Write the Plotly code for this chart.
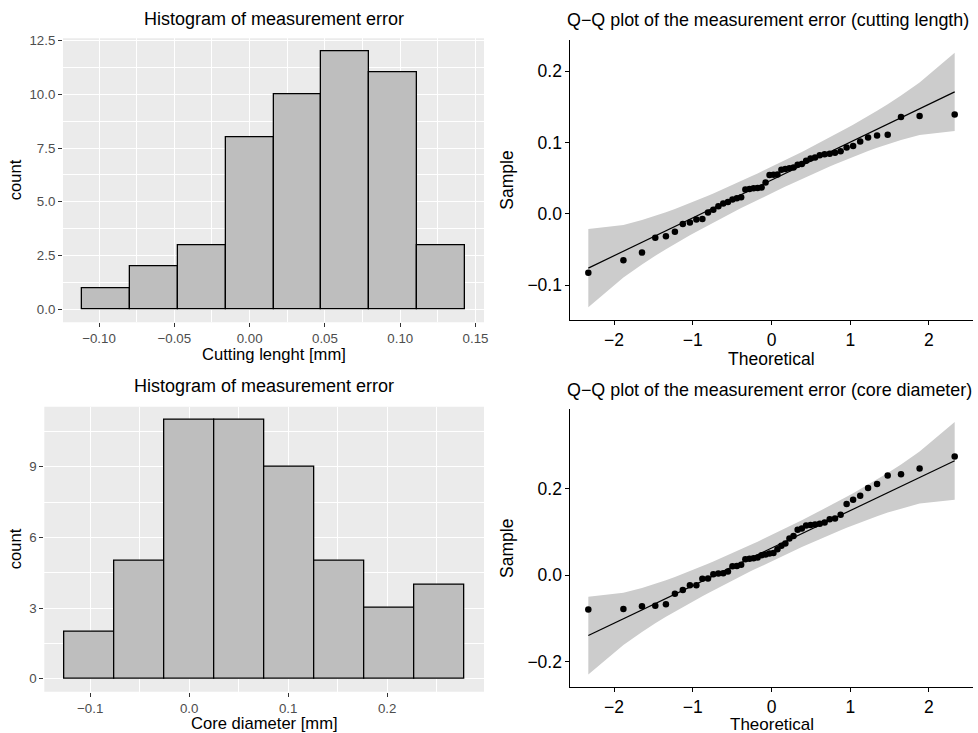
import math
from statistics import NormalDist
import plotly.graph_objects as go

# ---------------- data ----------------
cut_sample = [-0.0828, -0.0651, -0.0544, -0.0335, -0.0316, -0.0251, -0.0144, -0.0121, -0.0079, -0.0074,
              0.0019, 0.0056, 0.0107, 0.0144, 0.0167, 0.0200, 0.0219, 0.0233, 0.0340, 0.0350,
              0.0358, 0.0363, 0.0370, 0.0440, 0.0544, 0.0549, 0.0553, 0.0620, 0.0630, 0.0640,
              0.0650, 0.0690, 0.0700, 0.0744, 0.0777, 0.0790, 0.0820, 0.0837, 0.0842, 0.0856,
              0.0879, 0.0930, 0.0953, 0.1014, 0.1070, 0.1100, 0.1110, 0.1358, 0.1372, 0.1395]

core_sample = [-0.0792, -0.0777, -0.0717, -0.0702, -0.0672, -0.0430, -0.0340, -0.0234, -0.0234, -0.0083,
               -0.0075, 0.0023, 0.0038, 0.0045, 0.0083, 0.0204, 0.0211, 0.0242, 0.0370, 0.0377,
               0.0392, 0.0408, 0.0460, 0.0480, 0.0498, 0.0513, 0.0596, 0.0680, 0.0732, 0.0845,
               0.0906, 0.1050, 0.1080, 0.1147, 0.1160, 0.1170, 0.1190, 0.1215, 0.1290, 0.1306,
               0.1396, 0.1645, 0.1743, 0.1834, 0.2015, 0.2106, 0.2300, 0.2332, 0.2460, 0.2740]

hist1_edges = [-0.1112, -0.0794, -0.0476, -0.0159, 0.0159, 0.0476, 0.0794, 0.1112, 0.1429]
hist1_counts = [1, 2, 3, 8, 10, 12, 11, 3]

hist2_edges = [-0.1262, -0.0757, -0.0252, 0.0252, 0.0757, 0.1262, 0.1767, 0.2271, 0.2776]
hist2_counts = [2, 5, 11, 11, 9, 5, 3, 4]

title_hist = "Histogram of measurement error"
title_qq1 = "Q\u2212Q plot of the measurement error (cutting length)"
title_qq2 = "Q\u2212Q plot of the measurement error (core diameter)"
xlab_hist1 = "Cutting lenght [mm]"
xlab_hist2 = "Core diameter [mm]"

# ---------------- stats (like qqplotr) ----------------
nd = NormalDist()


def q7(s, p):
    h = (len(s) - 1) * p
    lo = math.floor(h)
    hi = min(lo + 1, len(s) - 1)
    return s[lo] + (h - lo) * (s[hi] - s[lo])


def qq_stats(sample):
    y = sorted(sample)
    n = len(y)
    ps = [(i - 0.5) / n for i in range(1, n + 1)]
    x = [nd.inv_cdf(p) for p in ps]
    z1, z3 = nd.inv_cdf(0.25), nd.inv_cdf(0.75)
    slope = (q7(y, 0.75) - q7(y, 0.25)) / (z3 - z1)
    icpt = q7(y, 0.25) - slope * z1
    zc = nd.inv_cdf(0.975)
    fit = [icpt + slope * z for z in x]
    se = [slope / nd.pdf(z) * math.sqrt(p * (1 - p) / n) for z, p in zip(x, ps)]
    up = [f + zc * s for f, s in zip(fit, se)]
    lo = [f - zc * s for f, s in zip(fit, se)]
    return x, y, fit, up, lo


def expand(lo, hi, f=0.05):
    d = (hi - lo) * f
    return [lo - d, hi + d]


fig = go.Figure()

FONT = "Liberation Sans, Arial, sans-serif"


def add_hist(edges, counts, xa, ya):
    centers = [(a + b) / 2 for a, b in zip(edges[:-1], edges[1:])]
    widths = [b - a for a, b in zip(edges[:-1], edges[1:])]
    fig.add_trace(go.Bar(x=centers, y=counts, width=widths, marker=dict(color="#BEBEBE",
                         line=dict(color="black", width=1.3)), xaxis=xa, yaxis=ya,
                         hoverinfo="x+y"))


def add_qq(sample, xa, ya):
    x, y, fit, up, lo = qq_stats(sample)
    fig.add_trace(go.Scatter(x=x + x[::-1], y=up + lo[::-1], fill="toself", fillcolor="#CCCCCC",
                             line=dict(width=0), mode="lines", xaxis=xa, yaxis=ya, hoverinfo="skip"))
    fig.add_trace(go.Scatter(x=[x[0], x[-1]], y=[fit[0], fit[-1]], mode="lines",
                             line=dict(color="black", width=1.2), xaxis=xa, yaxis=ya))
    fig.add_trace(go.Scatter(x=x, y=y, mode="markers", marker=dict(color="black", size=6.5),
                             xaxis=xa, yaxis=ya))
    return expand(min(x), max(x)), expand(min(lo + y), max(up + y))


add_hist(hist1_edges, hist1_counts, "x", "y")
qx1, qy1 = add_qq(cut_sample, "x2", "y2")
add_hist(hist2_edges, hist2_counts, "x3", "y3")
qx2, qy2 = add_qq(core_sample, "x4", "y4")

W, H = 978, 733


def dx(a, b):
    return [a / W, b / W]


def dy(top, bot):
    return [1 - bot / H, 1 - top / H]


hist_tick = dict(ticks="outside", ticklen=4, tickwidth=1.1, tickcolor="#333333",
                 tickfont=dict(family=FONT, size=13.3, color="#4D4D4D"), showgrid=True,
                 gridcolor="white", gridwidth=1.3, zeroline=False, showline=False, automargin=False)
qq_tick = dict(ticks="outside", ticklen=3.5, tickwidth=1.1, tickcolor="black",
               tickfont=dict(family=FONT, size=17.5, color="black"), showgrid=False,
               zeroline=False, showline=True, linecolor="black", linewidth=1.1, automargin=False)

fig.update_layout(
    width=W, height=H, margin=dict(l=0, r=0, t=0, b=0), showlegend=False,
    plot_bgcolor="white", paper_bgcolor="white", bargap=0,
    xaxis=dict(domain=dx(63, 484), anchor="y", range=expand(hist1_edges[0], hist1_edges[-1]),
               tickmode="linear", tick0=-0.1, dtick=0.05, tickformat=".2f",
               minor=dict(dtick=0.025, tick0=-0.1, showgrid=True, gridcolor="white", gridwidth=0.6, ticks=""),
               **hist_tick),
    yaxis=dict(domain=dy(38.3, 322.3), anchor="x", range=expand(0, max(hist1_counts)),
               tickmode="linear", tick0=0, dtick=2.5, tickformat=".1f",
               minor=dict(dtick=1.25, tick0=0, showgrid=True, gridcolor="white", gridwidth=0.6, ticks=""),
               **hist_tick),
    xaxis2=dict(domain=dx(570, 973), anchor="y2", range=qx1, tickmode="linear", tick0=0, dtick=1,
                **qq_tick),
    yaxis2=dict(domain=dy(40, 320), anchor="x2", range=qy1, tickmode="linear", tick0=0, dtick=0.1,
                tickformat=".1f", **qq_tick),
    xaxis3=dict(domain=dx(44.3, 484), anchor="y3", range=expand(hist2_edges[0], hist2_edges[-1]),
                tickmode="linear", tick0=0, dtick=0.1, tickformat=".1f",
                minor=dict(dtick=0.05, tick0=0, showgrid=True, gridcolor="white", gridwidth=0.6, ticks=""),
                **hist_tick),
    yaxis3=dict(domain=dy(406.7, 691.7), anchor="x3", range=expand(0, max(hist2_counts)),
                tickmode="linear", tick0=0, dtick=3,
                minor=dict(dtick=1.5, tick0=0, showgrid=True, gridcolor="white", gridwidth=0.6, ticks=""),
                **hist_tick),
    xaxis4=dict(domain=dx(570, 973), anchor="y4", range=qx2, tickmode="linear", tick0=0, dtick=1,
                **qq_tick),
    yaxis4=dict(domain=dy(409.3, 687), anchor="x4", range=qy2, tickmode="linear", tick0=0, dtick=0.2,
                tickformat=".1f", **qq_tick),
)

for xr, yr in (("x domain", "y domain"), ("x3 domain", "y3 domain")):
    fig.add_shape(type="rect", xref=xr, yref=yr, x0=0, x1=1, y0=0, y1=1,
                  fillcolor="#EBEBEB", line=dict(width=0), layer="below")


def ann(text, x, y, size, xanchor="center", angle=0):
    fig.add_annotation(text=text, x=x / W, y=1 - y / H, xref="paper", yref="paper",
                       xanchor=xanchor, yanchor="middle", showarrow=False, textangle=angle,
                       borderpad=0, font=dict(family=FONT, size=size, color="black"))


ann(title_hist, 273.5, 19, 18)
ann(title_qq1, 566, 20, 17.9, xanchor="left")
ann(title_hist, 264.2, 386, 18)
ann(title_qq2, 566, 390, 17.9, xanchor="left")

ann(xlab_hist1, 273.5, 354, 16.6)
ann("count", 15, 180.3, 16.6, angle=-90)
ann(xlab_hist2, 264.2, 723, 16.6)
ann("count", 15, 549.2, 16.6, angle=-90)

ann("Sample", 506.7, 180, 17.5, angle=-90)
ann("Theoretical", 771.5, 359, 17.5)
ann("Sample", 506.7, 548.2, 17.5, angle=-90)
ann("Theoretical", 771.5, 724, 17)

fig.write_html("out.html")
